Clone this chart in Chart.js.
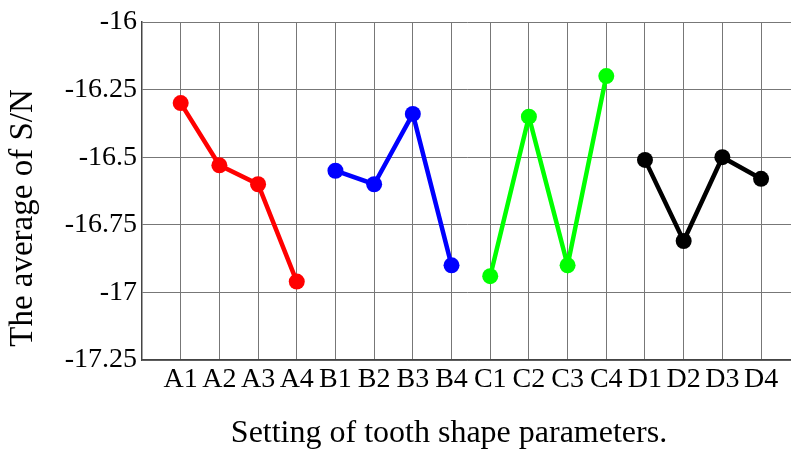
<!DOCTYPE html>
<html>
<head>
<meta charset="utf-8">
<script src="https://cdn.jsdelivr.net/npm/chart.js@4/dist/chart.umd.min.js"></script>
<style>
  html, body { margin: 0; padding: 0; background: #fff; overflow: hidden; }
  #wrap { width: 791px; height: 450px; overflow: hidden; }
</style>
</head>
<body>
<div id="wrap"><canvas id="snChart" width="800" height="450"></canvas></div>
<script>
// ---- DATA ----
const categories = ["A1", "A2", "A3", "A4", "B1", "B2", "B3", "B4",
                    "C1", "C2", "C3", "C4", "D1", "D2", "D3", "D4"];
const factorA = [-16.30, -16.53, -16.60, -16.96];
const factorB = [-16.55, -16.60, -16.34, -16.90];
const factorC = [-16.94, -16.35, -16.90, -16.20];
const factorD = [-16.51, -16.81, -16.50, -16.58];
const yTicks = [-16, -16.25, -16.5, -16.75, -17, -17.25];
const xTitle = "Setting of tooth shape parameters.";
const yTitle = "The average of S/N";

const FONT = "Liberation Serif";
Chart.defaults.font.family = FONT;

// each factor group takes 4 consecutive slots on the x axis
function groupPoints(values, group) {
  return values.map((v, i) => ({ x: group * 4 + i + 1, y: v }));
}

function series(values, group, color) {
  return {
    data: groupPoints(values, group),
    borderColor: color,
    backgroundColor: color,
    borderWidth: 4.5,
    pointRadius: 8,
    pointHoverRadius: 8,
    pointBorderWidth: 0,
    tension: 0
  };
}

// ---- AXIS TITLES ----
const axisTitles = {
  id: "axisTitles",
  afterDraw(chart) {
    const c = chart.ctx;
    c.save();
    c.fillStyle = "#000";
    c.textAlign = "center";
    c.textBaseline = "middle";
    c.font = "32px " + FONT;
    c.fillText(xTitle, 449, 434);
    c.translate(23, 218);
    c.rotate(-Math.PI / 2);
    c.font = "33px " + FONT;
    c.fillText(yTitle, 0, 0);
    c.restore();
  }
};

// ---- CHART ----
const ctx = document.getElementById("snChart").getContext("2d");
const chart = new Chart(ctx, {
  type: "line",
  data: {
    datasets: [
      series(factorA, 0, "#ff0000"),
      series(factorB, 1, "#0000ff"),
      series(factorC, 2, "#00ff00"),
      series(factorD, 3, "#000000")
    ]
  },
  options: {
    responsive: false,
    animation: false,
    layout: { padding: { top: 22, right: 0, bottom: 0, left: 0 } },
    plugins: { legend: { display: false }, tooltip: { enabled: false } },
    scales: {
      x: {
        type: "linear",
        min: 0,
        max: 16.8,
        afterBuildTicks: s => { s.ticks = categories.map((_, i) => ({ value: i + 1 })); },
        afterFit: s => { s.height = 90; },
        grid: { color: "#777", lineWidth: 1, drawTicks: false },
        border: { color: "#444", width: 1.5 },
        ticks: {
          color: "#000",
          font: { family: FONT, size: 28 },
          padding: 3,
          maxRotation: 0,
          autoSkip: false,
          callback: v => categories[v - 1]
        }
      },
      y: {
        min: -17.25,
        max: -16,
        afterBuildTicks: s => { s.ticks = yTicks.map(v => ({ value: v })); },
        afterFit: s => { s.width = 142; },
        grid: { color: "#777", lineWidth: 1, drawTicks: false },
        border: { color: "#444", width: 1.5 },
        ticks: {
          color: "#000",
          font: { family: FONT, size: 28 },
          padding: 5,
          callback: v => String(v)
        }
      }
    }
  },
  plugins: [axisTitles]
});
</script>
</body>
</html>
